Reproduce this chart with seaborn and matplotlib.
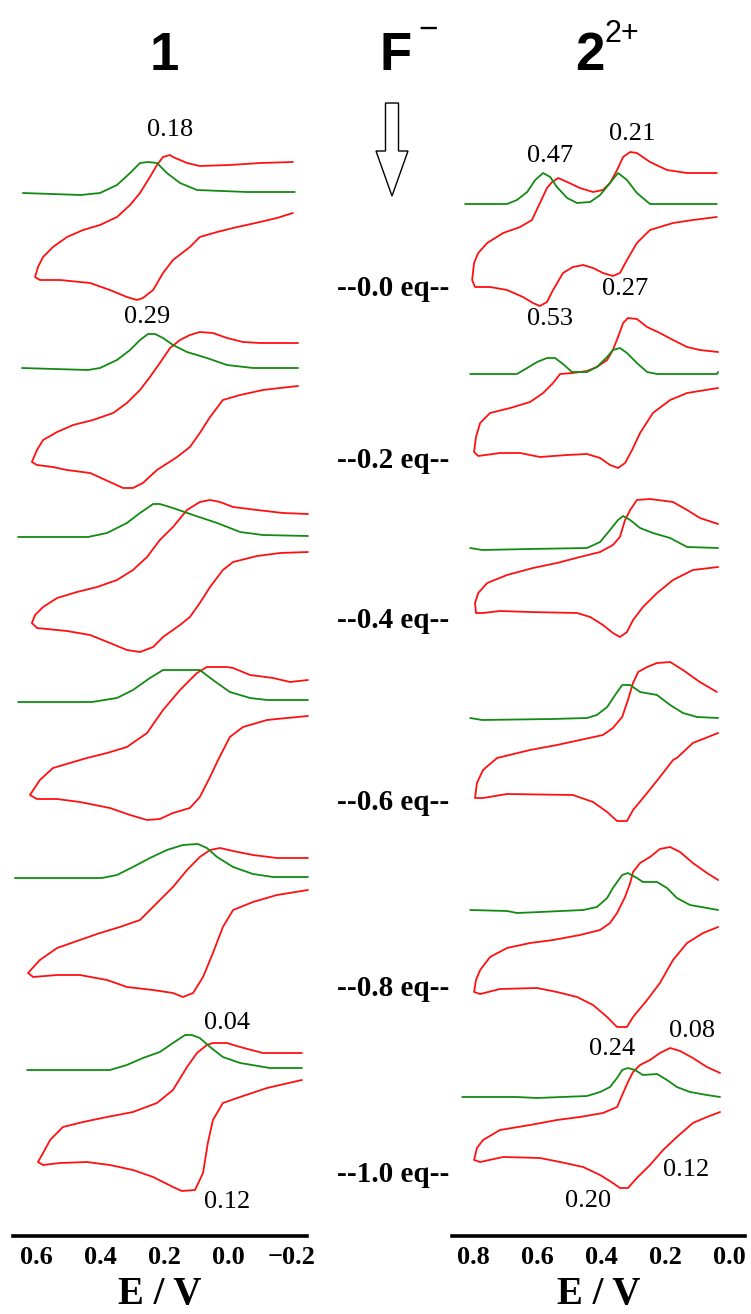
import matplotlib
matplotlib.use("Agg")
import matplotlib.pyplot as plt
from matplotlib.patches import FancyArrow
import seaborn as sns

# fluoride added (equivalents), one row per addition
eq = [0.0, 0.2, 0.4, 0.6, 0.8, 1.0]

# ---- compound 1 : cyclic voltammograms (E in V, current in a.u.)
cv1_E = [
    [-0.203, -0.1, -0.006, 0.088, 0.128, 0.172, 0.181, 0.203, 0.222, 0.244, 0.275, 0.306, 0.347, 0.40, 0.453, 0.503, 0.547, 0.578, 0.594, 0.603,
     0.588, 0.525, 0.431, 0.369, 0.316, 0.284, 0.266, 0.234, 0.203, 0.172, 0.119, 0.088, 0.034, -0.016, -0.1, -0.153, -0.203],
    [-0.219, -0.1, -0.047, 0.003, 0.047, 0.088, 0.119, 0.15, 0.181, 0.213, 0.244, 0.275, 0.316, 0.359, 0.422, 0.484, 0.534, 0.578, 0.597, 0.613,
     0.597, 0.547, 0.503, 0.431, 0.369, 0.328, 0.297, 0.266, 0.222, 0.159, 0.119, 0.088, 0.056, 0.016, -0.038, -0.109, -0.163, -0.219],
    [-0.25, -0.172, -0.091, -0.016, 0.025, 0.056, 0.088, 0.128, 0.172, 0.213, 0.253, 0.297, 0.347, 0.409, 0.472, 0.534, 0.578, 0.603, 0.613,
     0.597, 0.503, 0.431, 0.369, 0.316, 0.275, 0.234, 0.203, 0.15, 0.119, 0.088, 0.056, 0.016, -0.016, -0.091, -0.163, -0.25],
    [-0.25, -0.194, -0.141, -0.069, -0.016, 0.003, 0.066, 0.097, 0.15, 0.203, 0.253, 0.316, 0.378, 0.441, 0.547, 0.588, 0.619,
     0.597, 0.534, 0.463, 0.369, 0.306, 0.253, 0.213, 0.172, 0.119, 0.088, 0.056, 0.031, -0.006, -0.047, -0.122, -0.184, -0.25],
    [-0.25, -0.153, -0.078, -0.016, 0.025, 0.056, 0.088, 0.128, 0.172, 0.222, 0.275, 0.338, 0.40, 0.463, 0.534, 0.588, 0.625,
     0.609, 0.534, 0.463, 0.378, 0.316, 0.234, 0.172, 0.141, 0.109, 0.078, 0.047, 0.016, -0.016, -0.078, -0.153, -0.25],
    [-0.231, -0.109, -0.038, 0.003, 0.047, 0.066, 0.097, 0.128, 0.172, 0.222, 0.297, 0.378, 0.453, 0.516, 0.556, 0.578, 0.594,
     0.578, 0.525, 0.441, 0.369, 0.297, 0.234, 0.172, 0.144, 0.103, 0.078, 0.063, 0.047, 0.016, -0.038, -0.122, -0.231],
]
cv1_i = [
    [126, 125, 123, 122, 125, 131, 133, 131, 123, 111, 95, 83, 71, 63, 58, 51, 41, 31, 21, 11,
     8, 8, 5, -2, -9, -12, -10, -2, 15, 28, 41, 51, 56, 60, 66, 70, 75],
    [117, 117, 118, 122, 127, 128, 125, 120, 112, 97, 83, 70, 57, 47, 40, 35, 28, 20, 10, -2,
     -5, -7, -10, -13, -22, -28, -28, -23, -10, 3, 13, 27, 43, 60, 65, 70, 72, 74],
    [106, 107, 110, 113, 118, 120, 118, 110, 93, 80, 63, 50, 40, 33, 28, 22, 13, 5, -3,
     -8, -11, -15, -23, -30, -32, -27, -17, -5, 3, 17, 33, 50, 58, 64, 67, 68],
    [122, 120, 124, 127, 134, 135, 135, 129, 112, 92, 69, 55, 49, 44, 34, 22, 7,
     3, 3, 0, -6, -13, -18, -17, -11, -6, 5, 25, 42, 65, 75, 82, 84, 86],
    [130, 130, 133, 137, 140, 138, 131, 118, 101, 85, 68, 61, 55, 48, 40, 28, 15,
     11, 13, 13, 8, 1, -2, -5, -9, -5, 11, 35, 61, 78, 86, 93, 98],
    [122, 122, 128, 132, 132, 130, 122, 108, 85, 72, 63, 58, 53, 48, 35, 22, 13,
     10, 12, 13, 10, 5, -2, -12, -16, -15, 2, 32, 55, 72, 78, 87, 95],
]

# ---- compound 1 : differential pulse voltammograms
dpv1_E = [
    [0.641, 0.46, 0.40, 0.347, 0.306, 0.275, 0.25, 0.222, 0.191, 0.15, 0.097, -0.059, -0.209],
    [0.644, 0.438, 0.40, 0.347, 0.306, 0.275, 0.25, 0.228, 0.203, 0.172, 0.128, 0.066, 0.003, -0.078, -0.219],
    [0.656, 0.438, 0.378, 0.316, 0.275, 0.234, 0.213, 0.172, 0.109, 0.034, -0.038, -0.109, -0.25],
    [0.656, 0.425, 0.347, 0.297, 0.244, 0.203, 0.088, 0.047, -0.006, -0.069, -0.122, -0.25],
    [0.666, 0.394, 0.347, 0.297, 0.244, 0.191, 0.141, 0.094, 0.066, 0.034, -0.016, -0.078, -0.141, -0.25],
    [0.628, 0.369, 0.316, 0.266, 0.213, 0.172, 0.134, 0.113, 0.088, 0.056, 0.016, -0.038, -0.131, -0.231],
]
dpv1_i = [
    [95, 93, 95, 103, 115, 125, 126, 125, 115, 105, 98, 96, 96],
    [92, 90, 92, 100, 110, 120, 126, 126, 122, 115, 108, 102, 95, 92, 92],
    [83, 83, 87, 97, 107, 116, 116, 112, 105, 97, 88, 85, 84],
    [100, 100, 104, 112, 124, 132, 132, 122, 110, 104, 102, 102],
    [110, 110, 113, 121, 130, 138, 143, 144, 140, 131, 121, 114, 111, 111],
    [105, 105, 110, 117, 123, 132, 140, 140, 137, 128, 118, 112, 107, 107],
]

# ---- compound 2(2+) : cyclic voltammograms
cv2_E = [
    [0.038, 0.131, 0.194, 0.247, 0.288, 0.309, 0.331, 0.35, 0.372, 0.394, 0.425, 0.466, 0.506, 0.534, 0.553, 0.569, 0.591, 0.616, 0.653, 0.706,
     0.756, 0.784, 0.797, 0.803, 0.794, 0.747, 0.694, 0.644, 0.613, 0.591, 0.569, 0.55, 0.519, 0.488, 0.456, 0.425, 0.394, 0.363, 0.341, 0.319,
     0.288, 0.247, 0.175, 0.113, 0.038],
    [0.034, 0.091, 0.131, 0.175, 0.216, 0.256, 0.288, 0.316, 0.331, 0.347, 0.363, 0.381, 0.413, 0.444, 0.488, 0.528, 0.55, 0.581, 0.622, 0.684,
     0.747, 0.778, 0.791, 0.797, 0.784, 0.716, 0.653, 0.591, 0.506, 0.444, 0.403, 0.372, 0.347, 0.325, 0.303, 0.278, 0.238, 0.184, 0.131, 0.034],
    [0.034, 0.091, 0.131, 0.175, 0.247, 0.288, 0.309, 0.325, 0.341, 0.363, 0.403, 0.466, 0.538, 0.613, 0.694, 0.756, 0.784, 0.794,
     0.791, 0.769, 0.716, 0.622, 0.475, 0.434, 0.394, 0.363, 0.341, 0.319, 0.3, 0.269, 0.225, 0.175, 0.113, 0.034],
    [0.038, 0.091, 0.144, 0.184, 0.225, 0.256, 0.284, 0.3, 0.316, 0.334, 0.363, 0.394, 0.466, 0.538, 0.622, 0.725, 0.769, 0.788, 0.794,
     0.769, 0.694, 0.488, 0.425, 0.381, 0.35, 0.319, 0.3, 0.256, 0.216, 0.175, 0.163, 0.113, 0.034],
    [0.034, 0.069, 0.113, 0.153, 0.184, 0.216, 0.247, 0.278, 0.3, 0.309, 0.325, 0.35, 0.372, 0.403, 0.466, 0.55, 0.622, 0.694, 0.747, 0.778,
     0.791, 0.797, 0.778, 0.716, 0.6, 0.538, 0.475, 0.425, 0.381, 0.35, 0.319, 0.3, 0.256, 0.216, 0.175, 0.131, 0.081, 0.034],
    [0.028, 0.069, 0.113, 0.153, 0.184, 0.216, 0.247, 0.278, 0.3, 0.316, 0.331, 0.35, 0.394, 0.466, 0.538, 0.622, 0.716, 0.769, 0.788, 0.797,
     0.778, 0.706, 0.591, 0.528, 0.456, 0.403, 0.363, 0.341, 0.316, 0.288, 0.247, 0.206, 0.163, 0.113, 0.069, 0.028],
]
cv2_i = [
    [115, 115, 118, 126, 135, 136, 131, 118, 105, 98, 96, 100, 106, 110, 106, 100, 85, 68, 61, 55,
     45, 35, 25, 8, 1, 1, -2, -9, -15, -18, -14, -2, 15, 21, 23, 20, 15, 12, 15, 28,
     45, 58, 65, 68, 71],
    [108, 110, 113, 120, 127, 133, 141, 142, 137, 123, 110, 100, 93, 89, 87, 86, 77, 67, 58, 52,
     47, 37, 23, 8, 4, 7, 7, 3, 5, 6, 2, -5, -8, -3, 10, 27, 47, 60, 67, 72],
    [96, 102, 110, 118, 121, 120, 110, 100, 83, 75, 68, 63, 57, 52, 45, 37, 27, 17,
     7, 7, 9, 8, 7, 3, -5, -13, -17, -12, 0, 13, 27, 40, 50, 53],
    [110, 120, 132, 140, 139, 135, 130, 119, 102, 85, 74, 67, 62, 57, 52, 44, 32, 19, 4,
     4, 8, 7, 0, -10, -19, -19, -8, 9, 25, 42, 44, 59, 69],
    [108, 115, 125, 136, 141, 139, 131, 125, 116, 105, 91, 75, 65, 58, 53, 48, 45, 40, 31, 18,
     8, -4, -6, -1, 0, -4, -9, -17, -29, -39, -39, -29, -12, 5, 28, 45, 55, 61],
    [102, 108, 117, 124, 127, 122, 115, 110, 103, 93, 82, 68, 62, 58, 55, 50, 45, 35, 27, 15,
     13, 18, 17, 13, 8, 0, -8, -13, -13, -3, 10, 25, 38, 52, 58, 63],
]

# ---- compound 2(2+) : differential pulse voltammograms
dpv2_E = [
    [0.825, 0.694, 0.663, 0.631, 0.606, 0.581, 0.559, 0.538, 0.506, 0.475, 0.434, 0.403, 0.372, 0.347, 0.319, 0.288, 0.247, 0.038],
    [0.809, 0.663, 0.631, 0.6, 0.569, 0.544, 0.519, 0.491, 0.444, 0.413, 0.381, 0.363, 0.341, 0.319, 0.288, 0.256, 0.225, 0.038, 0.034],
    [0.809, 0.772, 0.622, 0.444, 0.403, 0.372, 0.347, 0.331, 0.309, 0.278, 0.238, 0.184, 0.131, 0.034],
    [0.809, 0.772, 0.553, 0.444, 0.413, 0.381, 0.356, 0.334, 0.309, 0.278, 0.225, 0.184, 0.144, 0.1, 0.034],
    [0.809, 0.694, 0.663, 0.591, 0.456, 0.413, 0.381, 0.363, 0.334, 0.316, 0.288, 0.269, 0.225, 0.194, 0.163, 0.122, 0.069, 0.034],
    [0.834, 0.663, 0.6, 0.444, 0.403, 0.372, 0.35, 0.334, 0.316, 0.294, 0.269, 0.225, 0.194, 0.163, 0.122, 0.069, 0.028],
]
dpv2_i = [
    [84, 84, 88, 96, 108, 115, 111, 101, 90, 85, 86, 93, 105, 115, 108, 95, 84, 84],
    [86, 86, 92, 98, 102, 102, 96, 88, 88, 93, 103, 110, 112, 107, 97, 88, 86, 86, 88],
    [72, 70, 71, 72, 78, 90, 100, 104, 100, 92, 87, 82, 73, 72],
    [84, 82, 83, 84, 87, 95, 107, 117, 117, 110, 107, 97, 89, 85, 84],
    [78, 77, 75, 76, 78, 81, 90, 100, 113, 115, 110, 106, 106, 100, 90, 83, 80, 78],
    [78, 78, 77, 79, 83, 88, 97, 105, 107, 105, 100, 101, 95, 88, 83, 80, 78],
]

# peak potentials written on the figure
peaks1 = ["0.18", "0.29", "0.04", "0.12"]
peaks2 = ["0.47", "0.21", "0.27", "0.53", "0.24", "0.08", "0.12", "0.20"]

# ---------------------------------------------------------------- layout
W, H = 751, 1314
AX_TOP, AX_BOT = 100, 1236
row_y = [288, 460, 620, 802, 988, 1175]          # pixel row of each titration step
peaks1_pos = [(0.181, 130), (0.253, 317), (0.003, 1023), (0.003, 1202)]
peaks2_pos = [(0.56, 156), (0.303, 134), (0.325, 289), (0.56, 319),
              (0.366, 1049), (0.116, 1031), (0.134, 1170), (0.441, 1201)]

RED = "#ff1010"
GREEN = "#138a13"

sns.set_style("white")
plt.rcParams['font.family'] = ['Liberation Serif', 'DejaVu Serif']
plt.rcParams['text.color'] = 'black'
plt.rcParams['axes.labelcolor'] = 'black'
plt.rcParams['xtick.color'] = 'black'

fig = plt.figure(figsize=(W / 100, H / 100), dpi=100)


def panel(x0, x1, xlim, ticks, cv_E, cv_i, dpv_E, dpv_i, peaks, peaks_pos):
    ax = fig.add_axes([x0 / W, 1 - AX_BOT / H, (x1 - x0) / W, (AX_BOT - AX_TOP) / H])
    for k in range(len(eq)):
        base = -row_y[k]
        sns.lineplot(x=cv_E[k], y=[base + v for v in cv_i[k]], sort=False, estimator=None,
                     color=RED, lw=1.3, ax=ax, clip_on=False)
        sns.lineplot(x=dpv_E[k], y=[base + v for v in dpv_i[k]], sort=False, estimator=None,
                     color=GREEN, lw=1.3, ax=ax, clip_on=False)
    for txt, (e, yp) in zip(peaks, peaks_pos):
        ax.text(e, -yp, txt, ha="center", va="center", fontsize=19, color="black")
    ax.set_xlim(xlim)
    ax.set_ylim(-AX_BOT, -AX_TOP)
    ax.set_yticks([])
    for s in ["top", "left", "right"]:
        ax.spines[s].set_visible(False)
    ax.spines["bottom"].set_linewidth(2.6)
    ax.spines["bottom"].set_color("black")
    ax.set_xticks(ticks)
    ax.set_xticklabels(["%.1f" % t if t >= 0 else "\u2212%.1f" % abs(t) for t in ticks],
                       fontsize=19, fontweight="bold")
    ax.tick_params(axis="x", direction="out", length=6, width=1.2, pad=1.5, color="black")
    ax.set_xlabel("E / V", fontsize=28, fontweight="bold", labelpad=5)
    ax.set_facecolor("none")
    return ax


panel(13, 307, (0.672, -0.247), [0.6, 0.4, 0.2, 0.0, -0.2],
      cv1_E, cv1_i, dpv1_E, dpv1_i, peaks1, peaks1_pos)
panel(452, 745, (0.866, -0.05), [0.8, 0.6, 0.4, 0.2, 0.0],
      cv2_E, cv2_i, dpv2_E, dpv2_i, peaks2, peaks2_pos)

# overlay in pixel units for headings, arrow and titration labels
ov = fig.add_axes([0, 0, 1, 1])
ov.set_xlim(0, W)
ov.set_ylim(H, 0)
ov.axis("off")

sans = ["Liberation Sans", "DejaVu Sans"]
ov.text(164, 56, "1", fontsize=38, fontweight="bold", family=sans, ha="center", va="center")
ov.text(396, 56, "F", fontsize=38, fontweight="bold", family=sans, ha="center", va="center")
ov.text(428, 30, "\u2212", fontsize=24, family=sans, ha="center", va="center")
ov.text(590, 56, "2", fontsize=38, fontweight="bold", family=sans, ha="center", va="center")
ov.text(622, 34, "2+", fontsize=22, family=sans, ha="center", va="center")

ov.add_patch(FancyArrow(392, 103, 0, 93, width=13, head_width=32, head_length=45,
                        length_includes_head=True, fc="white", ec="black", lw=1.0))

for k, v in enumerate(eq):
    ov.text(393, row_y[k], "--%.1f eq--" % v, fontsize=21, fontweight="bold",
            ha="center", va="center")

fig.savefig("out.png", dpi=100)
